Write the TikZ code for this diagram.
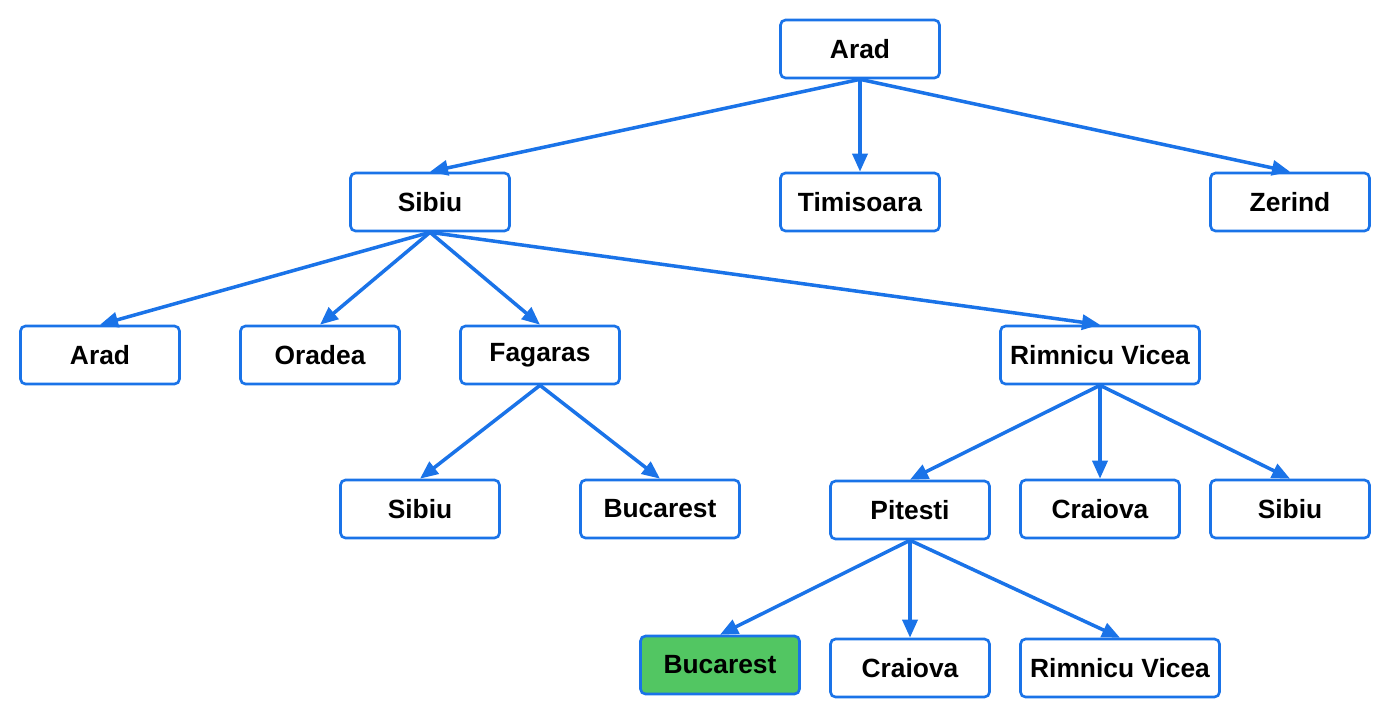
\documentclass[tikz,border=0pt]{standalone}
\usepackage{fontspec}
\setmainfont{Liberation Sans}
\usetikzlibrary{arrows.meta}
\definecolor{lnblue}{HTML}{1A73E8}
\definecolor{okgreen}{HTML}{52C662}
\tikzstyle{bk} = [rectangle, draw=lnblue, line width=1.5pt, text centered, rounded corners=0.1cm, minimum width=3.18cm, minimum height=1.16cm, font=\fontsize{15}{18}\selectfont\bfseries]
\tikzstyle{bkw} = [bk, minimum width=3.98cm]
\tikzstyle{goal} = [bk, fill=okgreen]
\tikzstyle{ar} = [draw=lnblue, line width=2pt, -{Triangle[length=0.36cm,width=0.3cm]}]

\begin{document}
\begin{tikzpicture}
	\useasboundingbox (0,0) rectangle (27.8,-14.34);
	\node [bk] (a) at (17.2,-0.98) {Arad};
	\node [bk] (s) at (8.6,-4.04) {Sibiu};
	\node [bk] (t) at (17.2,-4.04) {Timisoara};
	\node [bk] (z) at (25.8,-4.04) {Zerind};
	\node [bk] (sa) at (2.0,-7.1) {Arad};
	\node [bk] (so) at (6.4,-7.1) {Oradea};
	\node [bk] (sf) at (10.8,-7.1) {Fagaras};
	\node [bkw] (sr) at (22.0,-7.1) {Rimnicu Vicea};
	\node [bk] (fs) at (8.4,-10.18) {Sibiu};
	\node [bk] (fb) at (13.2,-10.18) {Bucarest};
	\node [bk] (rp) at (18.2,-10.2) {Pitesti};
	\node [bk] (rc) at (22.0,-10.18) {Craiova};
	\node [bk] (rs) at (25.8,-10.18) {Sibiu};
	\node [goal] (pb) at (14.4,-13.3) {Bucarest};
	\node [bk] (pc) at (18.2,-13.36) {Craiova};
	\node [bkw] (pr) at (22.4,-13.36) {Rimnicu Vicea};

	\draw [ar] (a.south) -- (s.north);
	\draw [ar] (a.south) -- (t.north);
	\draw [ar] (a.south) -- (z.north);
	\draw [ar] (s.south) -- (sa.north);
	\draw [ar] (s.south) -- (so.north);
	\draw [ar] (s.south) -- (sf.north);
	\draw [ar] (s.south) -- (sr.north);
	\draw [ar] (sf.south) -- (fs.north);
	\draw [ar] (sf.south) -- (fb.north);
	\draw [ar] (sr.south) -- (rp.north);
	\draw [ar] (sr.south) -- (rc.north);
	\draw [ar] (sr.south) -- (rs.north);
	\draw [ar] (rp.south) -- (pb.north);
	\draw [ar] (rp.south) -- (pc.north);
	\draw [ar] (rp.south) -- (pr.north);
\end{tikzpicture}
\end{document}
